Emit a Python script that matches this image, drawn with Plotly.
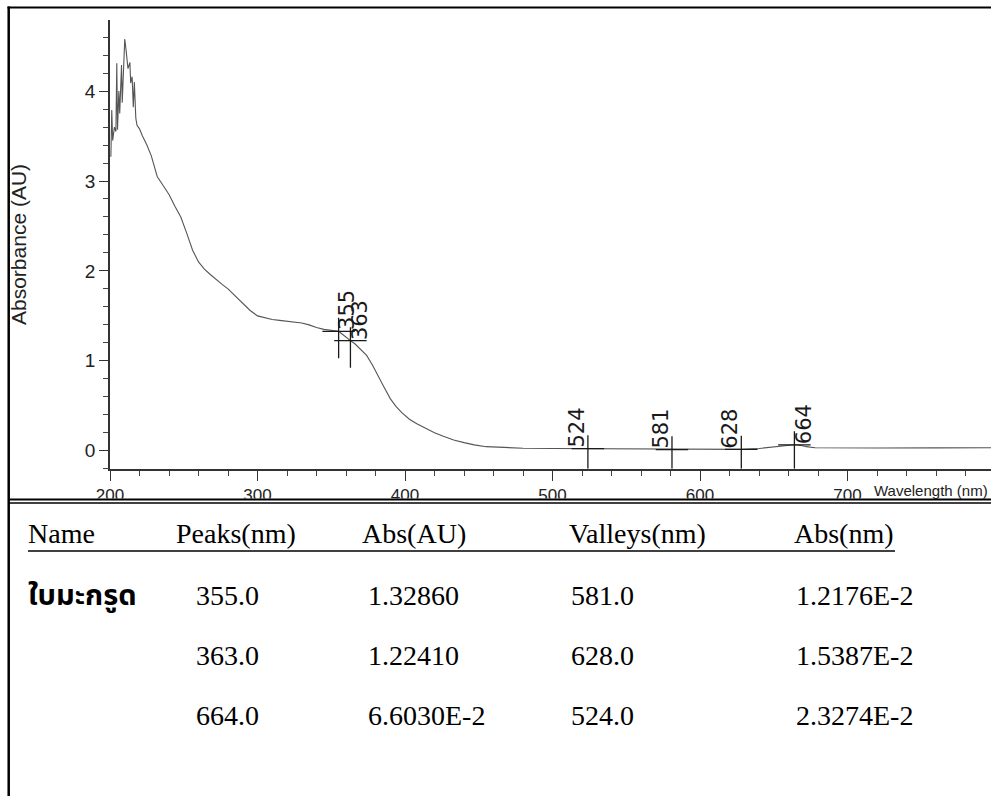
import plotly.graph_objects as go

# ---- spectrum (wavelength in nm, absorbance in AU) ----
wavelength = [
    200.6, 201.2, 201.8, 203.0, 204.0, 204.6, 205.1, 206.0, 206.6, 207.8,
    208.3, 209.5, 210.0, 210.6, 211.3, 212.2, 213.5, 214.0, 215.0, 215.8,
    216.5, 217.5, 218.3,
    220, 222, 225, 228, 232, 236, 240, 244, 248, 252, 256, 260, 264, 268,
    272, 276, 280, 285, 290, 295, 300, 305, 310, 315, 320, 325, 330, 335,
    340, 345, 350, 355, 358, 360, 363, 366, 370, 374, 378, 382, 386, 390,
    394, 398, 403, 408, 414, 420, 426, 433, 440, 447, 455, 465, 480, 500,
    524, 550, 581, 600, 628, 640, 648, 655, 660, 664, 668, 672, 678, 690,
    720, 760, 800,
]
absorbance = [
    3.27, 3.79, 3.45, 3.60, 3.55, 4.31, 3.57, 4.00, 3.75, 4.29,
    3.87, 4.40, 4.58, 4.50, 4.38, 4.25, 4.32, 4.09, 4.16, 3.82,
    4.10, 3.70, 3.62,
    3.58, 3.50, 3.40, 3.28, 3.05, 2.95, 2.85, 2.72, 2.60, 2.42, 2.23, 2.10, 2.02, 1.96,
    1.90, 1.85, 1.80, 1.72, 1.63, 1.56, 1.50, 1.48, 1.46, 1.45, 1.44, 1.43, 1.42, 1.40,
    1.37, 1.35, 1.34, 1.32860, 1.29, 1.26, 1.22410, 1.19, 1.13, 1.06, 0.95, 0.82, 0.70, 0.58,
    0.49, 0.42, 0.35, 0.30, 0.25, 0.20, 0.16, 0.12, 0.09, 0.065, 0.045, 0.035, 0.028, 0.025,
    0.023274, 0.018, 0.012176, 0.013, 0.015387, 0.025, 0.040, 0.055, 0.063, 0.066030, 0.060, 0.045, 0.033, 0.030,
    0.030, 0.032, 0.033,
]

# ---- detected peaks and valleys ----
sample_name = "ใบมะกรูด"
peak_nm = [355.0, 363.0, 664.0]
peak_abs = [1.32860, 1.22410, 0.066030]
valley_nm = [581.0, 628.0, 524.0]
valley_abs = [0.012176, 0.015387, 0.023274]

# ---- axis ticks ----
x_ticks = [200, 300, 400, 500, 600, 700]
y_ticks = [0, 1, 2, 3, 4]

W, H = 991, 796


def px(x):
    return x / W


def py(y):
    return 1 - y / H


def fmt_abs(v):
    if v >= 0.1:
        return f"{v:.5f}"
    mant, exp = f"{v:.4E}".split("E")
    return f"{mant}E{int(exp)}"


Y_MIN = -0.2
X_RANGE = [200, 200 + (W - 110) / 1.475]

fig = go.Figure()

fig.add_trace(go.Scatter(
    x=wavelength, y=absorbance, mode="lines",
    line=dict(color="#555555", width=1.1), hoverinfo="skip",
))

# crosshair markers at each peak / valley
cx, cy = [], []
for nm, v in zip(peak_nm + valley_nm, peak_abs + valley_abs):
    cx += [nm - 11, nm + 11, None, nm, nm, None]
    cy += [v, v, None, v + 0.15, max(v - 0.3, Y_MIN), None]
fig.add_trace(go.Scatter(
    x=cx, y=cy, mode="lines", line=dict(color="#1a1a1a", width=1.3),
    hoverinfo="skip",
))

annotations = []
label_font = dict(family="DejaVu Sans, Arial, sans-serif", size=21, color="#1a1a1a")
for nm, v in zip(peak_nm, peak_abs):
    annotations.append(dict(
        x=nm, y=v, xref="x", yref="y", text=f"{nm:.0f}", textangle=-90,
        showarrow=False, xanchor="center", yanchor="bottom", xshift=9,
        font=label_font, borderpad=0,
    ))
for nm, v in zip(valley_nm, valley_abs):
    annotations.append(dict(
        x=nm, y=v, xref="x", yref="y", text=f"{nm:.0f}", textangle=-90,
        showarrow=False, xanchor="center", yanchor="bottom", xshift=-11,
        font=label_font, borderpad=0,
    ))

axis_font = dict(family="Liberation Sans, Arial, sans-serif", size=19, color="#222")
annotations.append(dict(
    x=px(19), y=py(245), xref="paper", yref="paper", text="Absorbance (AU)",
    textangle=-90, showarrow=False, xanchor="center", yanchor="middle",
    font=dict(family="Liberation Sans, Arial, sans-serif", size=21, color="#222"),
))
annotations.append(dict(
    x=px(872), y=py(480), xref="paper", yref="paper", text="Wavelength (nm)",
    showarrow=False, xanchor="left", yanchor="top",
    font=dict(family="Liberation Sans, Arial, sans-serif", size=15, color="#222"),
))

# ---- results table ----
tfont = dict(family="Liberation Serif, Times New Roman, serif", size=28, color="black")
thai_font = dict(family="Noto Sans Thai, Loma, Garuda, Tlwg Typo, Liberation Serif, serif",
                 size=29, color="black")
headers = ["Name", "Peaks(nm)", "Abs(AU)", "Valleys(nm)", "Abs(nm)"]
header_x = [28, 176, 362, 569, 794]
col_x = [28, 196, 368, 571, 796]
header_base = 543
row_base = [605, 665, 725]
mid = 9.5  # baseline to line-box centre

for text, x in zip(headers, header_x):
    annotations.append(dict(
        x=px(x - 2), y=py(header_base - mid), xref="paper", yref="paper",
        text=text, showarrow=False, xanchor="left", yanchor="middle", font=tfont,
    ))

annotations.append(dict(
    x=px(col_x[0] - 2), y=py(row_base[0] - mid), xref="paper", yref="paper",
    text=f"<b>{sample_name}</b>", showarrow=False, xanchor="left",
    yanchor="middle", font=thai_font,
))
for i in range(3):
    row = [f"{peak_nm[i]:.1f}", fmt_abs(peak_abs[i]),
           f"{valley_nm[i]:.1f}", fmt_abs(valley_abs[i])]
    for text, x in zip(row, col_x[1:]):
        annotations.append(dict(
            x=px(x - 2), y=py(row_base[i] - mid), xref="paper", yref="paper",
            text=text, showarrow=False, xanchor="left", yanchor="middle",
            font=tfont,
        ))

shapes = [
    # blank area under the chart that hosts the table
    dict(type="rect", xref="paper", yref="paper", x0=0, x1=1,
         y0=0, y1=py(498.5), fillcolor="white", line=dict(width=0), layer="above"),
    # separator double rule
    dict(type="line", xref="paper", yref="paper", x0=px(8), x1=1,
         y0=py(499.5), y1=py(499.5), line=dict(color="black", width=2), layer="above"),
    dict(type="line", xref="paper", yref="paper", x0=px(8), x1=1,
         y0=py(503), y1=py(503), line=dict(color="black", width=1.6), layer="above"),
    # outer frame
    dict(type="line", xref="paper", yref="paper", x0=px(7.5), x1=1,
         y0=py(7.5), y1=py(7.5), line=dict(color="black", width=2), layer="above"),
    dict(type="line", xref="paper", yref="paper", x0=px(8.7), x1=px(8.7),
         y0=py(6.5), y1=0, line=dict(color="black", width=2.5), layer="above"),
    # header underline
    dict(type="line", xref="paper", yref="paper", x0=px(28), x1=px(895),
         y0=py(551), y1=py(551), line=dict(color="black", width=1.6), layer="above"),
]

fig.update_layout(
    template="none",
    width=W, height=H,
    margin=dict(l=0, r=0, t=0, b=0, pad=0, autoexpand=False),
    paper_bgcolor="white", plot_bgcolor="white",
    showlegend=False,
    annotations=annotations,
    shapes=shapes,
    xaxis=dict(
        automargin=False,
        domain=[px(110), 1.0], range=X_RANGE,
        tickvals=x_ticks, ticktext=[str(t) for t in x_ticks],
        ticks="outside", ticklen=10, tickwidth=1.3, tickcolor="#333",
        minor=dict(ticks="outside", ticklen=5, tickwidth=1, tickcolor="#444",
                   dtick=20, tick0=200, showgrid=False),
        showline=True, linecolor="#333", linewidth=2,
        showgrid=False, zeroline=False,
        tickfont=dict(family="Liberation Sans, Arial, sans-serif", size=17, color="#222"),
    ),
    yaxis=dict(
        automargin=False,
        domain=[py(468.7), py(20)], range=[Y_MIN, 4.791],
        tickvals=y_ticks, ticktext=[str(t) for t in y_ticks],
        ticks="outside", ticklen=9, tickwidth=1.3, tickcolor="#333",
        minor=dict(ticks="outside", ticklen=5, tickwidth=1, tickcolor="#444",
                   dtick=0.2, tick0=0, showgrid=False),
        showline=True, linecolor="#333", linewidth=1.5,
        showgrid=False, zeroline=False,
        tickfont=axis_font,
    ),
)

fig.write_html("out.html")
